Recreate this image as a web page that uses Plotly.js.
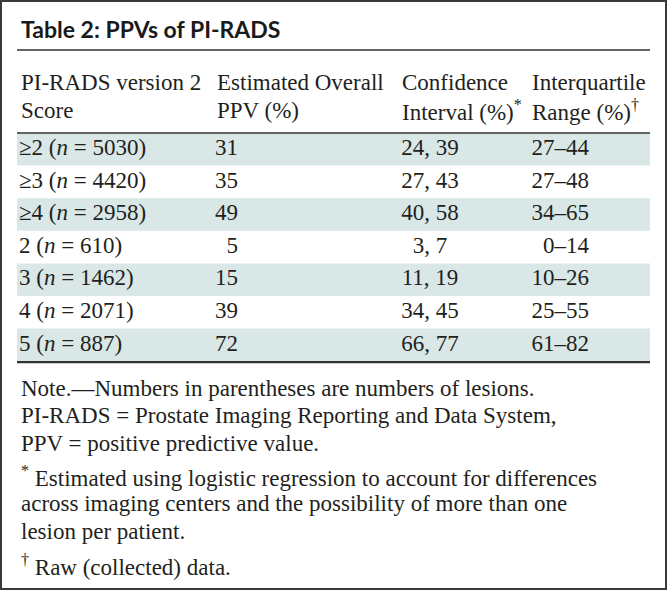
<!DOCTYPE html>
<html><head><meta charset="utf-8">
<script src="https://cdn.plot.ly/plotly-3.0.1.min.js"></script>
</head><body style="margin:0;padding:0;background:#fff"><div id="chart" style="width:667px;height:590px"></div>
<script>
// ---- data ----
var tableTitle = "Table 2: PPVs of PI-RADS";
var headerLines = [
  ["PI-RADS version 2", "Score"],
  ["Estimated Overall", "PPV (%)"],
  ["Confidence", "Interval (%)<sup>*</sup>"],
  ["Interquartile", "Range (%)<sup>†</sup>"]
];
var scores = ["≥2", "≥3", "≥4", "2", "3", "4", "5"];
var lesionCounts = [5030, 4420, 2958, 610, 1462, 2071, 887];
var ppv = [31, 35, 49, 5, 15, 39, 72];
var ciLow = [24, 27, 40, 3, 11, 34, 66];
var ciHigh = [39, 43, 58, 7, 19, 45, 77];
var iqrLow = [27, 27, 34, 0, 10, 25, 61];
var iqrHigh = [44, 48, 65, 14, 26, 55, 82];
var noteParagraphs = [
  ["Note.—Numbers in parentheses are numbers of lesions.",
   "PI-RADS = Prostate Imaging Reporting and Data System,",
   "PPV = positive predictive value."],
  ["<sup>*</sup> Estimated using logistic regression to account for differences",
   "across imaging centers and the possibility of more than one",
   "lesion per patient."],
  ["<sup>†</sup> Raw (collected) data."]
];

// ---- layout constants ----
var W = 667, H = 590;
var L = 17, R = 650;
var colX = [19, 215, 430, 589];
var ppvRight = 238;
var headTop = 50, bodyTop = 133, rowH = 32.6;
var SERIF = "Liberation Serif";
var INK = "#231f20";
var LINE = "#333333";
var FS = 23;
var tf = {family: SERIF, size: FS, color: INK};

var rowY = scores.map(function (_, i) { return bodyTop + (i + 0.5) * rowH; });

var traces = [
  { x: scores.map(function(){return colX[0];}), y: rowY, mode: "text",
    text: scores.map(function (s, i) { return s + " (<i>n</i> = " + lesionCounts[i] + ")"; }),
    textposition: "middle right", textfont: tf, hoverinfo: "skip" },
  { x: scores.map(function(){return ppvRight;}), y: rowY, mode: "text",
    text: ppv.map(String),
    textposition: "middle left", textfont: tf, hoverinfo: "skip" },
  { x: scores.map(function(){return colX[2];}), y: rowY, mode: "text",
    text: ciLow.map(function (v, i) { return v + ", " + ciHigh[i]; }),
    textposition: "middle center", textfont: tf, hoverinfo: "skip" },
  { x: scores.map(function(){return colX[3];}), y: rowY, mode: "text",
    text: iqrLow.map(function (v, i) { return v + "–" + iqrHigh[i]; }),
    textposition: "middle left", textfont: tf, hoverinfo: "skip" }
];

var shapes = [
  {type: "rect", xref: "paper", yref: "paper", x0: 0, x1: 1, y0: 0, y1: 1,
   line: {color: "#3a3a3a", width: 4}, fillcolor: "rgba(0,0,0,0)"}
];
scores.forEach(function (_, i) {
  if (i % 2 === 0) {
    shapes.push({type: "rect", xref: "x", yref: "y", x0: L, x1: R,
      y0: bodyTop + i * rowH, y1: bodyTop + (i + 1) * rowH,
      fillcolor: "#d9e7e7", line: {width: 0}, layer: "below"});
  }
});
shapes.push({type: "line", x0: L, x1: R, y0: headTop, y1: headTop, line: {color: LINE, width: 1.3}});
shapes.push({type: "line", x0: L, x1: R, y0: bodyTop, y1: bodyTop, line: {color: LINE, width: 1.3}});
var bodyBottom = bodyTop + scores.length * rowH;
shapes.push({type: "line", x0: L, x1: R, y0: bodyBottom + 1, y1: bodyBottom + 1, line: {color: LINE, width: 2.2}});

var annotations = [
  {text: "<b>" + tableTitle + "</b>", x: 19, y: 29, xanchor: "left", yanchor: "middle",
   showarrow: false, font: {family: "Lato", size: 23, color: "#1a1a1a"}}
];
var headX = [19, 215, 400, 530];
var headY = [82, 110];
headerLines.forEach(function (lines, j) {
  lines.forEach(function (t, k) {
    annotations.push({text: t, x: headX[j], y: headY[k], xanchor: "left", yanchor: "middle",
      showarrow: false, font: tf});
  });
});
var noteTops = [388, 476, 565], noteStep = 27.7;
noteParagraphs.forEach(function (lines, p) {
  lines.forEach(function (t, k) {
    annotations.push({text: t, x: 19, y: noteTops[p] + k * noteStep, xanchor: "left", yanchor: "middle",
      showarrow: false, font: tf});
  });
});

var layout = {
  width: W, height: H, margin: {l: 0, r: 0, t: 0, b: 0},
  paper_bgcolor: "#fff", plot_bgcolor: "#fff", showlegend: false,
  xaxis: {range: [0, W], visible: false, fixedrange: true},
  yaxis: {range: [H, 0], visible: false, fixedrange: true},
  shapes: shapes, annotations: annotations
};
Plotly.newPlot("chart", traces, layout, {displayModeBar: false});
</script></body></html>
